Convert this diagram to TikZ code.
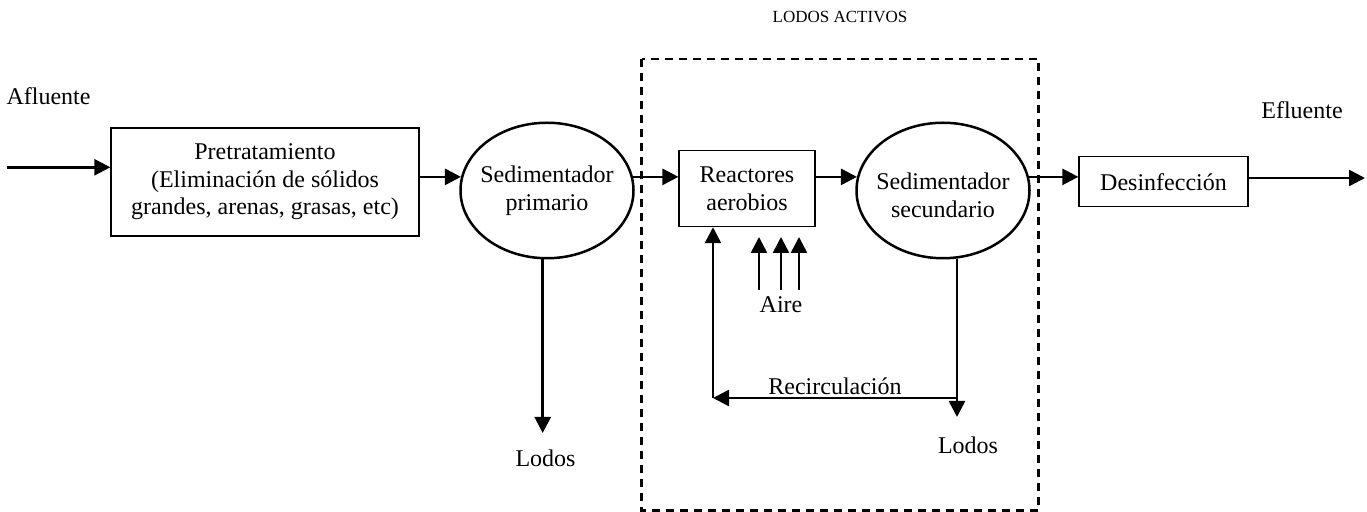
\documentclass[tikz,border=0pt]{standalone}
\usepackage{fontspec}
\setmainfont{Liberation Serif}
\usetikzlibrary{arrows.meta,shapes.geometric}

\begin{document}
\begin{tikzpicture}[x=0.5pt,y=-0.5pt,
  txt/.style={font=\fontsize{12}{13.8}\selectfont},
  flow/.style={line width=1.3pt,-{Triangle[length=8pt,width=8pt]}},
  stagebox/.style={txt,draw,line width=0.65pt,rectangle,inner sep=0pt,align=center},
  tank/.style={draw,line width=1.25pt,ellipse,inner sep=0pt,
    minimum width=86.5pt,minimum height=67.75pt},
  tanktext/.style={txt,inner sep=0pt,align=center},
  lbl/.style={txt,inner sep=0pt,anchor=base},
  zone/.style={line width=1.2pt,dash pattern=on 4pt off 3pt}]

\useasboundingbox (0,0) rectangle (1367,512);

% activated sludge zone
\draw[zone] (641.5,59) rectangle (1038.5,510.5);
\node[lbl,font=\fontsize{8.5}{10}\selectfont] (zonetitle) at (840,23) {LODOS ACTIVOS};

% process units
\node[stagebox,minimum width=154pt,minimum height=54pt] (pre) at (265,182)
  {Pretratamiento\\(Eliminación de sólidos\\grandes, arenas, grasas, etc)};
\node[tank] (sed1) at (547,190.5) {};
\node[tanktext] (sed1txt) at (sed1.center) {Sedimentador\\primario};
\node[stagebox,line width=0.55pt,minimum width=68pt,minimum height=38pt] (reac) at (747,188.7)
  {Reactores\\aerobios};
\node[tank] (sed2) at (943,190.5) {};
\node[tanktext] (sed2txt) at ([yshift=-2.5pt]sed2.center) {Sedimentador\\secundario};
\node[stagebox,minimum width=84.5pt,minimum height=25pt] (des) at (1163.5,181.7) {Desinfección};

% labels
\node[lbl] (afl) at (48.5,105) {Afluente};
\node[lbl] (efl) at (1302,118.3) {Efluente};
\node[lbl] (aire) at (781,313) {Aire};
\node[lbl] (recirc) at (835,395) {Recirculación};
\node[lbl] (lodos1) at (545.5,467) {Lodos};
\node[lbl] (lodos2) at (968,454) {Lodos};

% free ends
\coordinate (src) at (7,167.3);
\coordinate (sink) at (1365,178);
\coordinate (sl1) at (542.7,433);
\coordinate (sl2) at (957,417);
\coordinate (rc) at (957,398);
\coordinate (rcl) at (713,398);
\coordinate (a1) at (759,290);
\coordinate (a2) at (781,290);
\coordinate (a3) at (799,290);
\coordinate (t1) at (759,237);
\coordinate (t2) at (781,237);
\coordinate (t3) at (799,237);

% main flow line
\draw[flow] (src) -- (pre.west |- src);
\draw[flow] (pre.east |- sed1.171) -- (sed1.171);
\draw[flow] (sed1.9) -- (reac.west |- sed1.9);
\draw[flow] (reac.east |- sed2.171) -- (sed2.171);
\draw[flow] (sed2.9) -- (des.west |- sed2.9);
\draw[flow] (des.east |- sink) -- (sink);

% sludge withdrawal and return
\draw[flow] (sed1.south -| sl1) -- (sl1);
\draw[flow] (sed2.south -| sl2) -- (sl2);
\draw[flow] (rc) -- (rcl);
\draw[flow] (rcl) -- (rcl |- reac.south);

% aeration
\draw[flow] (a1) -- (t1);
\draw[flow] (a2) -- (t2);
\draw[flow] (a3) -- (t3);
\end{tikzpicture}
\end{document}
